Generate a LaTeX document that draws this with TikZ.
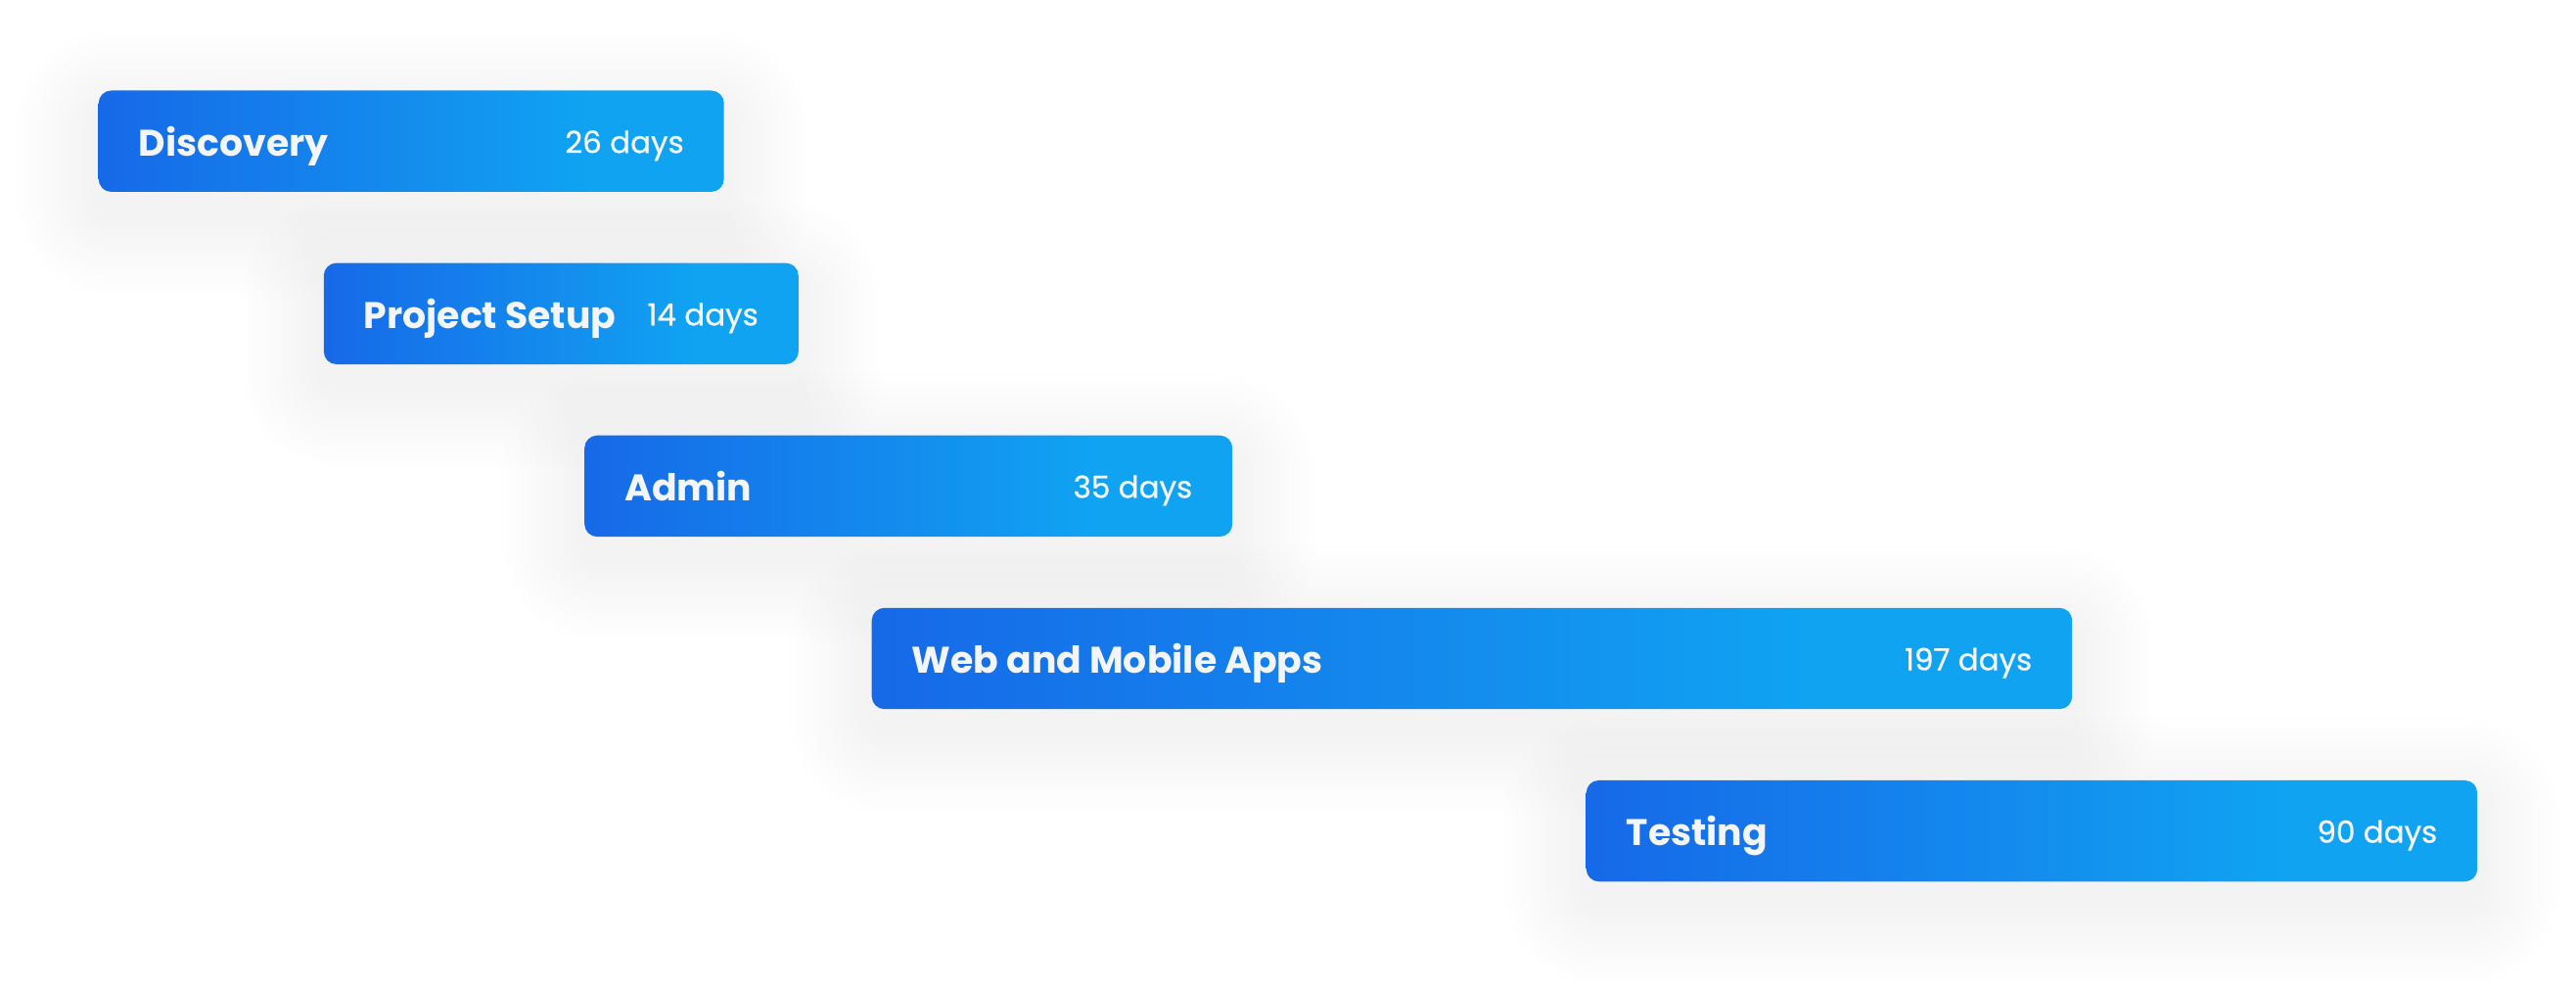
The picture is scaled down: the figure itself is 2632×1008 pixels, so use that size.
\documentclass[tikz,border=0pt]{standalone}
\usepackage{fontspec}
\setmainfont{Poppins}
\newfontfamily\durfont{Poppins}[FakeBold=0.8]
\usetikzlibrary{calc}
\definecolor{barA}{HTML}{1669E8}
\definecolor{barB}{HTML}{138DEE}
\definecolor{barC}{HTML}{10A3F2}
\definecolor{txtc}{HTML}{F3F5F8}
\definecolor{shadowc}{HTML}{8CA0C8}
\pgfdeclarehorizontalshading{barshade}{100bp}{color(0bp)=(barA); color(25bp)=(barA); color(50bp)=(barB); color(64bp)=(barC); color(100bp)=(barC)}
\tikzset{
  bar/.style={rectangle, rounded corners=13pt, shading=barshade, minimum height=103.4pt, inner sep=0pt, anchor=north west},
  ttl/.style={text=txtc, font=\bfseries\fontsize{37.8}{45}\selectfont, anchor=base west, inner sep=0pt},
  dur/.style={text=txtc, font=\durfont\fontsize{31}{36}\selectfont, anchor=base east, inner sep=0pt},
  shadowlayer/.style={fill=shadowc, opacity=0.006}
}
\begin{document}
\begin{tikzpicture}[x=1pt,y=-1pt]
\fill[white] (0,0) rectangle (2632,1008);
\useasboundingbox (0,0) rectangle (2632,1008);
% soft shadows
\foreach \i/\x/\w in {1/100.5/639, 2/330.6/485, 3/597/662, 4/890.5/1226.5, 5/1620.5/910.5}{
  \pgfmathsetmacro\yt{92.3+(\i-1)*176.1}
  \foreach \k in {1,...,12}{
    \pgfmathsetmacro\rr{13+\k*7}
    \pgfmathsetmacro\ee{\k*7}
    \fill[shadowlayer, rounded corners=\rr pt] (\x-\ee, \yt-\ee+22) rectangle (\x+\w+\ee, \yt+103.4+\ee+22);
  }
}
% bars
\foreach \i/\x/\w/\t/\d in {1/100.5/639/Discovery/26 days, 2/330.6/485/Project Setup/14 days, 3/597/662/Admin/35 days, 4/890.5/1226.5/Web and Mobile Apps/197 days, 5/1620.5/910.5/Testing/90 days}{
  \pgfmathsetmacro\yt{92.3+(\i-1)*176.1}
  \node[bar, minimum width=\w pt] (b\i) at (\x,\yt) {};
  \node[ttl] (t\i) at ($(b\i.west)+(41,15)$) {\t};
  \node[dur] (d\i) at ($(b\i.east)+(-41,12)$) {\d};
}
\end{tikzpicture}
\end{document}
